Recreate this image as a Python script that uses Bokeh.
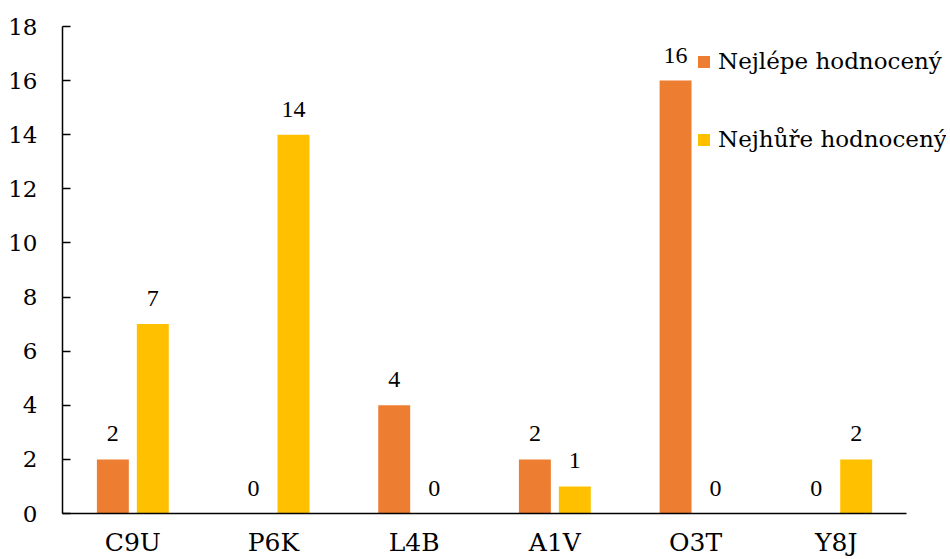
from bokeh.plotting import figure
from bokeh.models import ColumnDataSource, Range1d, LabelSet, Legend, LegendItem, FixedTicker
from bokeh.transform import dodge
from bokeh.embed import file_html
from bokeh.resources import INLINE

categories = ["C9U", "P6K", "L4B", "A1V", "O3T", "Y8J"]
best = [2, 0, 4, 2, 16, 0]
worst = [7, 14, 0, 1, 0, 2]
series_names = ["Nejlépe hodnocený", "Nejhůře hodnocený"]
y_ticks = [0, 2, 4, 6, 8, 10, 12, 14, 16, 18]

FONT = "DejaVu Serif"

xpos = [i + 0.5 for i in range(len(categories))]
src = ColumnDataSource(dict(
    x=xpos, cat=categories, best=best, worst=worst,
    best_txt=[str(v) for v in best], worst_txt=[str(v) for v in worst],
))

p = figure(x_range=Range1d(0, 6.284), y_range=Range1d(0, 18),
           width=950, height=559, output_backend="svg", toolbar_location=None,
           min_border_left=62, min_border_right=4, min_border_top=26, min_border_bottom=45)
p.outline_line_color = None
p.xgrid.visible = False
p.ygrid.visible = False
p.background_fill_color = "white"
p.border_fill_color = "white"

r1 = p.vbar(x=dodge("x", -0.142), top="best", width=0.227, source=src,
            fill_color="#ED7D31", line_color=None)
r2 = p.vbar(x=dodge("x", 0.142), top="worst", width=0.227, source=src,
            fill_color="#FFC000", line_color=None)

for col, txt, off in (("best", "best_txt", -0.142), ("worst", "worst_txt", 0.142)):
    lbl = LabelSet(x=dodge("x", off), y=col, text=txt, source=src,
                   text_align="center", text_baseline="alphabetic", y_offset=18,
                   text_font=FONT, text_font_size="24px", text_color="black")
    p.add_layout(lbl)

# axes
p.yaxis.ticker = FixedTicker(ticks=y_ticks)
p.yaxis.major_tick_in = 8
p.yaxis.major_tick_out = 0
p.yaxis.minor_tick_line_color = None
p.yaxis.major_label_standoff = 25
p.yaxis.axis_line_width = 1.5
p.yaxis.major_tick_line_width = 1.5
p.yaxis.axis_line_color = "black"
p.yaxis.major_tick_line_color = "black"
p.yaxis.major_label_text_font = FONT
p.yaxis.major_label_text_font_size = "23px"
p.yaxis.major_label_text_color = "black"

p.xaxis.ticker = FixedTicker(ticks=xpos)
p.xaxis.major_label_overrides = {x: c for x, c in zip(xpos, categories)}
p.xaxis.bounds = (0, len(categories))
p.xaxis.major_tick_line_color = None
p.xaxis.minor_tick_line_color = None
p.xaxis.axis_line_width = 1.5
p.xaxis.axis_line_color = "black"
p.xaxis.major_label_standoff = 8
p.xaxis.major_label_text_font = FONT
p.xaxis.major_label_text_font_size = "25px"
p.xaxis.major_label_text_color = "black"

legend = Legend(items=[LegendItem(label=series_names[0], renderers=[r1]),
                       LegendItem(label=series_names[1], renderers=[r2])],
                location=(634, 358), orientation="vertical",
                glyph_width=15, glyph_height=15, label_standoff=7,
                label_height=32, spacing=46, padding=0, margin=0,
                border_line_color=None, background_fill_alpha=0,
                label_text_font=FONT, label_text_font_size="23px", label_text_color="black")
p.add_layout(legend)

open("out.html", "w").write(file_html(p, INLINE))
